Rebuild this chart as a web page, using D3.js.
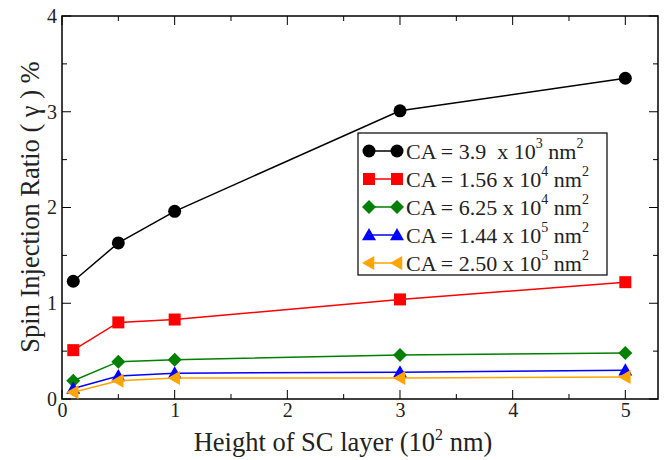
<!DOCTYPE html>
<html><head><meta charset="utf-8">
<script src="https://cdn.jsdelivr.net/npm/d3@7"></script>
<style>body{margin:0;background:#fff}svg{display:block}</style>
</head><body><svg id="c" width="664" height="460"></svg>
<script>
const xValues = [0.1, 0.5, 1, 3, 5];
const seriesNames = ["3.9  x 10|3", "1.56 x 10|4", "6.25 x 10|4", "1.44 x 10|5", "2.50 x 10|5"];
const seriesA = [1.23, 1.63, 1.96, 3.01, 3.35];
const seriesB = [0.51, 0.80, 0.83, 1.04, 1.22];
const seriesC = [0.19, 0.39, 0.41, 0.46, 0.48];
const seriesD = [0.11, 0.24, 0.27, 0.28, 0.30];
const seriesE = [0.07, 0.19, 0.22, 0.22, 0.23];
const colors = ["#000000", "#ff0000", "#008000", "#0000ff", "#ffa500"];
const shapes = ["circle", "square", "diamond", "triangle", "left"];
const xTicks = [0, 1, 2, 3, 4, 5];
const yTicks = [0, 1, 2, 3, 4];

const FONT = "'Liberation Serif', 'Times New Roman', Times, 'DejaVu Serif', serif";
const series = [seriesA, seriesB, seriesC, seriesD, seriesE];
const svg = d3.select("#c").attr("font-family", FONT);
const L = 62, R = 658, T = 16, B = 399;
const x = d3.scaleLinear().domain([0, 5.29]).range([L, R]);
const y = d3.scaleLinear().domain([0, 4]).range([B, T]);

svg.append("rect").attr("x", L).attr("y", T).attr("width", R - L).attr("height", B - T)
  .attr("fill", "none").attr("stroke", "#000").attr("stroke-width", 1.5);

const minorX = d3.range(0, 5.3, 0.5);
const minorY = d3.range(0, 4.01, 0.5);
const g = svg.append("g");
minorX.forEach(v => {
  const len = Number.isInteger(v) ? 9 : 5;
  g.append("line").attr("x1", x(v)).attr("x2", x(v)).attr("y1", B).attr("y2", B - len).attr("stroke", "#000");
  g.append("line").attr("x1", x(v)).attr("x2", x(v)).attr("y1", T).attr("y2", T + len).attr("stroke", "#000");
});
minorY.forEach(v => {
  const len = Number.isInteger(v) ? 9 : 5;
  g.append("line").attr("y1", y(v)).attr("y2", y(v)).attr("x1", L).attr("x2", L + len).attr("stroke", "#000");
  g.append("line").attr("y1", y(v)).attr("y2", y(v)).attr("x1", R).attr("x2", R - len).attr("stroke", "#000");
});

const xAxis = d3.axisBottom(x).tickValues(xTicks).tickSize(0).tickPadding(4).tickFormat(d3.format("d"));
svg.append("g").attr("transform", `translate(0,${B})`).call(xAxis)
  .attr("font-family", FONT).attr("font-size", 20)
  .call(s => s.select(".domain").remove())
  .selectAll("text").attr("fill", "#222");
const yAxis = d3.axisLeft(y).tickValues(yTicks).tickSize(0).tickPadding(5).tickFormat(d3.format("d"));
svg.append("g").attr("transform", `translate(${L},0)`).call(yAxis)
  .attr("font-family", FONT).attr("font-size", 20)
  .call(s => s.select(".domain").remove())
  .selectAll("text").attr("fill", "#222");

const xt = svg.append("text").attr("x", 343).attr("y", 451).attr("text-anchor", "middle").attr("font-size", 26.5).attr("fill", "#222");
xt.append("tspan").text("Height of SC layer (10");
xt.append("tspan").attr("font-size", 16).attr("dy", -11).text("2");
xt.append("tspan").attr("dy", 11).text(" nm)");
svg.append("text").attr("transform", "translate(39,207) rotate(-90)").attr("text-anchor", "middle")
  .attr("font-size", 26.5).attr("fill", "#222").text("Spin Injection Ratio ( γ ) %");

function marker(sel, shape, color, cx, cy) {
  const s = 7;
  if (shape === "circle") sel.append("circle").attr("cx", cx).attr("cy", cy).attr("r", 6.5).attr("fill", color);
  else if (shape === "square") sel.append("rect").attr("x", cx - 6).attr("y", cy - 6).attr("width", 12).attr("height", 12).attr("fill", color);
  else if (shape === "diamond") sel.append("path").attr("d", `M${cx},${cy - s}L${cx + s},${cy}L${cx},${cy + s}L${cx - s},${cy}Z`).attr("fill", color);
  else if (shape === "triangle") sel.append("path").attr("d", `M${cx},${cy - s}L${cx + s},${cy + s * 0.75}L${cx - s},${cy + s * 0.75}Z`).attr("fill", color);
  else if (shape === "left") sel.append("path").attr("d", `M${cx - s},${cy}L${cx + s * 0.75},${cy - s}L${cx + s * 0.75},${cy + s}Z`).attr("fill", color);
}

const line = d3.line().x((d, i) => x(xValues[i])).y(d => y(d));
series.forEach((vals, k) => {
  const gg = svg.append("g");
  gg.append("path").attr("d", line(vals)).attr("fill", "none").attr("stroke", colors[k]).attr("stroke-width", 1.5);
  vals.forEach((v, i) => marker(gg, shapes[k], colors[k], x(xValues[i]), y(v)));
});

const lg = svg.append("g");
lg.append("rect").attr("x", 358).attr("y", 133).attr("width", 249).attr("height", 142)
  .attr("fill", "#fff").attr("stroke", "#000").attr("stroke-width", 1.2);
seriesNames.forEach((nm, k) => {
  const yy = 151 + k * 28;
  lg.append("line").attr("x1", 369).attr("x2", 397).attr("y1", yy).attr("y2", yy).attr("stroke", colors[k]).attr("stroke-width", 1.5);
  marker(lg, shapes[k], colors[k], 369, yy);
  marker(lg, shapes[k], colors[k], 397, yy);
  const [base, exp] = nm.split("|");
  const t = lg.append("text").attr("x", 406).attr("y", yy + 8).attr("font-size", 22).attr("fill", "#222").attr("xml:space", "preserve");
  t.append("tspan").text("CA = " + base);
  t.append("tspan").attr("font-size", 14).attr("dy", -11).text(exp);
  t.append("tspan").attr("dy", 11).text(" nm");
  t.append("tspan").attr("font-size", 14).attr("dy", -11).text("2");
});
</script></body></html>
